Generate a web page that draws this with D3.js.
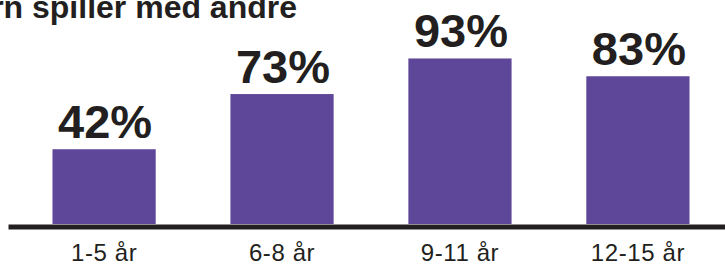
<!DOCTYPE html>
<html>
<head>
<meta charset="utf-8">
<script src="https://cdn.jsdelivr.net/npm/d3@7"></script>
<style>
  html, body { margin: 0; padding: 0; background: #fff; }
  svg { display: block; font-family: "Liberation Sans", Arial, Helvetica, sans-serif; }
</style>
</head>
<body>
<svg width="725" height="264"></svg>
<script>
var categories = ["1-5 år", "6-8 år", "9-11 år", "12-15 år"];
var values = [42, 73, 93, 83];
var title = "Barn spiller med andre";

var barColor = "#5e4699", ink = "#231f20";

var svg = d3.select("svg");

var x = d3.scaleBand()
  .domain(categories)
  .range([8, 734])
  .paddingInner(0.42)
  .paddingOuter(0.25);

var y = d3.scaleLinear()
  .domain([0, 100])
  .range([224, 46]);

var data = categories.map(function(c, i) { return {cat: c, val: values[i]}; });

// bars
svg.selectAll("rect.bar")
  .data(data)
  .enter().append("rect")
  .attr("class", "bar")
  .attr("x", function(d) { return x(d.cat); })
  .attr("y", function(d) { return y(d.val); })
  .attr("width", x.bandwidth())
  .attr("height", function(d) { return y(0) - y(d.val); })
  .attr("fill", barColor);

// value labels
svg.selectAll("text.val")
  .data(data)
  .enter().append("text")
  .attr("class", "val")
  .attr("x", function(d) { return x(d.cat) + x.bandwidth() / 2 + 1; })
  .attr("y", function(d) { return y(d.val) - 11.5; })
  .attr("text-anchor", "middle")
  .attr("font-size", "47px")
  .attr("font-weight", "bold")
  .attr("fill", ink)
  .text(function(d) { return d.val + "%"; });

// x axis: thick baseline, category labels
var axis = svg.append("g")
  .attr("transform", "translate(0,226.5)")
  .call(d3.axisBottom(x).tickSize(0).tickPadding(17));
axis.select(".domain")
  .attr("stroke", ink)
  .attr("stroke-width", 5);
axis.selectAll(".tick text")
  .attr("font-size", "24px")
  .attr("font-family", "\"Liberation Sans\", Arial, Helvetica, sans-serif")
  .attr("letter-spacing", "0.6px")
  .attr("fill", ink);

// title (cut off at the left edge, as in the source)
svg.append("text")
  .attr("x", 297)
  .attr("y", 18)
  .attr("text-anchor", "end")
  .attr("font-size", "32px")
  .attr("font-weight", "bold")
  .attr("fill", ink)
  .text(title);
</script>
</body>
</html>
